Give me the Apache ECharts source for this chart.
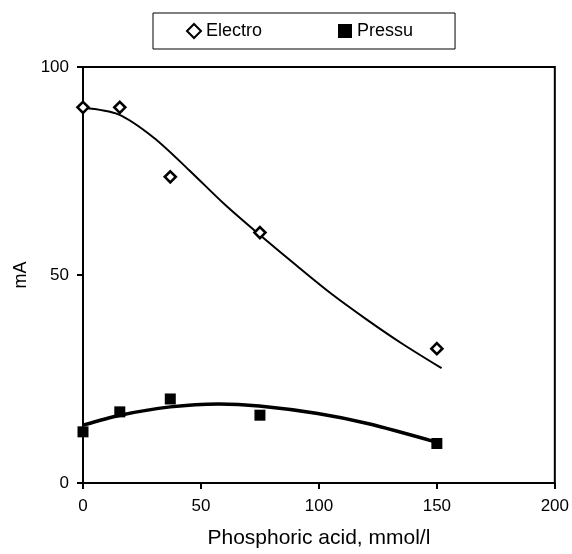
<!DOCTYPE html>
<html>
<head>
<meta charset="utf-8">
<script src="https://cdn.jsdelivr.net/npm/echarts@6/dist/echarts.min.js"></script>
<style>
html, body { margin: 0; padding: 0; background: #fff; }
#chart { width: 572px; height: 554px; }
</style>
</head>
<body>
<div id="chart"></div>
<script>
// measured points
var electroPts = [[0, 90.3], [15.6, 90.3], [37, 73.6], [75, 60.2], [150, 32.3]];
var pressuPts = [[0, 12.3], [15.6, 17.1], [37, 20.2], [75, 16.3], [150, 9.5]];
// trend curves
var electroFit = [[0, 90.2], [15, 88.6], [30, 83.0], [45, 75.2], [60, 67.0], [75, 59.6],
    [90, 52.5], [105, 45.6], [120, 39.4], [135, 33.6], [152, 27.6]];
var pressuFit = [[0, 13.9], [15.7, 16.3], [37, 18.3], [57.5, 19.0], [74.7, 18.5], [99.5, 16.7],
    [120.6, 14.3], [149.3, 9.9]];
var xTicks = [0, 50, 100, 150, 200];
var yTicks = [0, 50, 100];

var font = 'Liberation Sans, Arial, sans-serif';
var dom = document.getElementById('chart');
var myChart = echarts.init(dom, null, { renderer: 'canvas' });

var option = {
    backgroundColor: '#fff',
    animation: false,
    legend: {
        data: ['Electro', 'Pressu'],
        left: 153,
        top: 13,
        padding: [9, 42, 9, 33],
        itemGap: 76,
        itemWidth: 14,
        itemHeight: 14,
        borderColor: '#000',
        borderWidth: 1,
        textStyle: { fontFamily: font, fontSize: 18, color: '#000' }
    },
    grid: {
        left: 83, right: 15, top: 67, bottom: 67.5,
        show: true, borderColor: '#000', borderWidth: 2
    },
    xAxis: {
        type: 'value',
        min: xTicks[0], max: xTicks[xTicks.length - 1], interval: 50,
        name: 'Phosphoric acid, mmol/l',
        nameLocation: 'middle',
        nameGap: 45,
        nameTextStyle: { fontFamily: font, fontSize: 21, color: '#000' },
        axisLine: { lineStyle: { color: '#000', width: 2 } },
        axisTick: { show: true, length: 6, lineStyle: { color: '#000', width: 2 } },
        axisLabel: { fontFamily: font, fontSize: 17, color: '#000', margin: 15 },
        splitLine: { show: false }
    },
    yAxis: {
        type: 'value',
        min: yTicks[0], max: yTicks[yTicks.length - 1], interval: 50,
        name: 'mA',
        nameLocation: 'middle',
        nameGap: 48,
        nameTextStyle: { fontFamily: font, fontSize: 18, color: '#000' },
        axisLine: { show: true, lineStyle: { color: '#000', width: 2 } },
        axisTick: { show: true, length: 6, lineStyle: { color: '#000', width: 2 } },
        axisLabel: { fontFamily: font, fontSize: 17, color: '#000', margin: 14 },
        splitLine: { show: false }
    },
    series: [
        {
            name: 'Electro fit', type: 'line', data: electroFit, smooth: 0.3,
            showSymbol: false, lineStyle: { color: '#000', width: 2 }, z: 2
        },
        {
            name: 'Pressu fit', type: 'line', data: pressuFit, smooth: 0.3,
            showSymbol: false, lineStyle: { color: '#000', width: 3.5 }, z: 2
        },
        {
            name: 'Electro', type: 'scatter', data: electroPts,
            symbol: 'diamond', symbolSize: 11,
            itemStyle: { color: '#fff', borderColor: '#000', borderWidth: 2.6, opacity: 1 }, z: 3
        },
        {
            name: 'Pressu', type: 'scatter', data: pressuPts,
            symbol: 'rect', symbolSize: 11,
            itemStyle: { color: '#000', opacity: 1 }, z: 3
        }
    ]
};
myChart.setOption(option);
</script>
</body>
</html>
